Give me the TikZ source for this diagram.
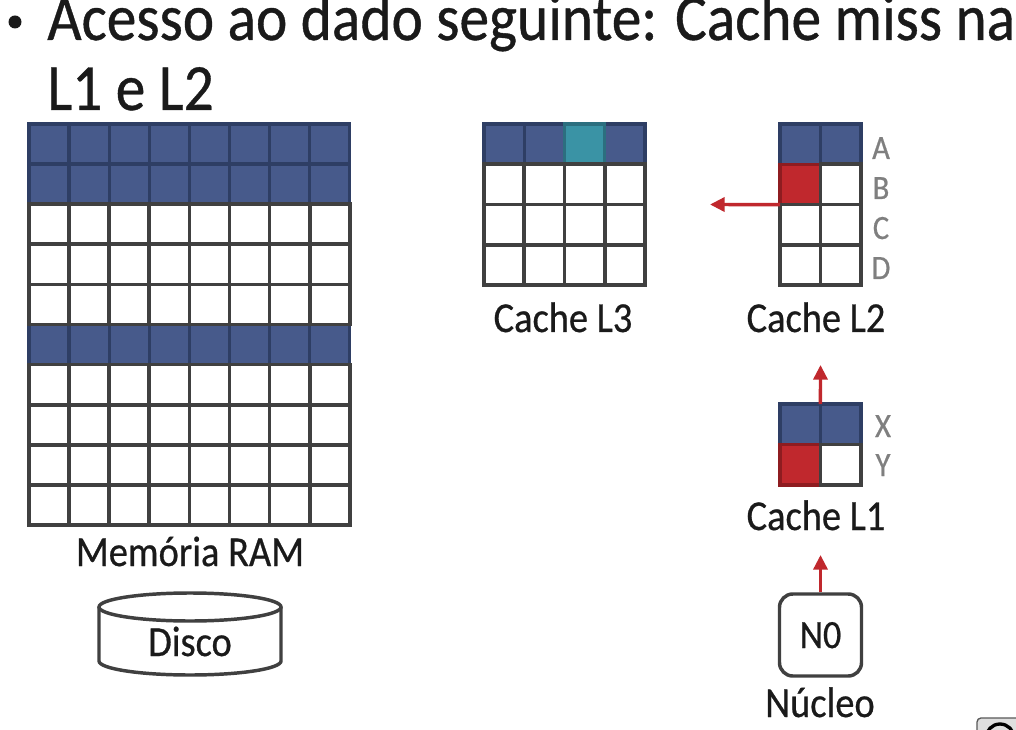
\documentclass[tikz,border=0pt]{standalone}
\usepackage{fontspec}
\setmainfont{Carlito}[FakeStretch=0.9,FakeBold=0.6]
\usetikzlibrary{arrows.meta}
\definecolor{gridc}{HTML}{404040}
\definecolor{cblue}{HTML}{475A8B}
\definecolor{cbluedk}{HTML}{2E3E64}
\definecolor{cteal}{HTML}{3A93A5}
\definecolor{ctealdk}{HTML}{2C6F7F}
\definecolor{cred}{HTML}{C0282D}
\definecolor{creddk}{HTML}{8E1C20}
\definecolor{cgrayt}{HTML}{7F7F7F}
\definecolor{ctext}{HTML}{1A1A1A}
\newcommand\fsTitle{\fontsize{49.5}{52}\selectfont}
\newcommand\fsLab{\fontsize{32}{36}\selectfont}
\newcommand\fsRow{\fontsize{25.5}{28}\selectfont}
\begin{document}
\begin{tikzpicture}[x=0.75pt,y=-0.75pt,
  cellw/.style={draw=gridc, line width=2.8pt, fill=white, minimum width=#1, minimum height=#1, inner sep=0, outer sep=0},
  cellb/.style={draw=cbluedk, line width=2.4pt, fill=cblue, minimum width=#1, minimum height=#1, inner sep=0, outer sep=0},
  cellt/.style={draw=ctealdk, line width=2.4pt, fill=cteal, minimum width=#1, minimum height=#1, inner sep=0, outer sep=0},
  cellr/.style={draw=creddk, line width=2.4pt, fill=cred, minimum width=#1, minimum height=#1, inner sep=0, outer sep=0},
  lab/.style={font=\fsLab, text=ctext, anchor=base, inner sep=0},
  rowlab/.style={font=\fsRow, text=cgrayt, anchor=base, inner sep=0},
  redarr/.style={draw=cred, line width=2.6pt, -{Triangle[length=11pt,width=10.5pt]}},
]
\clip (0,0) rectangle (1016,730);
\fill[white] (0,0) rectangle (1016,730);

% title
\fill[ctext] (15,22) circle[radius=6.5];
\node[font=\fsTitle, text=ctext, anchor=base west, inner sep=0] (t1) at (47,40) {Acesso ao dado seguinte: Cache miss na};
\node[font=\fsTitle, text=ctext, anchor=base west, inner sep=0] (t2) at (47,110) {L1 e L2};

% RAM grid 8x10
\foreach \r in {0,1,5}{\foreach \c in {0,...,7}{
  \node[cellb=30.1pt] (ram-\r-\c) at ({29+40.1*(\c+0.5)},{124+40.1*(\r+0.5)}) {};}}
\foreach \r in {2,3,4,6,7,8,9}{\foreach \c in {0,...,7}{
  \node[cellw=30.1pt] (ram-\r-\c) at ({29+40.1*(\c+0.5)},{124+40.1*(\r+0.5)}) {};}}
\node[lab] (ramlab) at (190,566) {Memória RAM};

% Disk
\draw[draw=gridc, line width=2.6pt, fill=white] (99,607) -- (99,661) arc[start angle=180, end angle=0, x radius=91, y radius=14] -- (281,607);
\draw[draw=gridc, line width=2.6pt, fill=white] (190,607) ellipse[x radius=91, y radius=14];
\node[lab] (disco) at (190,656) {Disco};

% L3 grid 4x4
\foreach \c in {0,1,3}{\node[cellb=30.2pt] (l3-0-\c) at ({484+40.25*(\c+0.5)},{124+40.25*0.5}) {};}
\node[cellt=30.2pt] (l3-0-2) at ({484+40.25*2.5},{124+40.25*0.5}) {};
\foreach \r in {1,2,3}{\foreach \c in {0,...,3}{
  \node[cellw=30.2pt] (l3-\r-\c) at ({484+40.25*(\c+0.5)},{124+40.25*(\r+0.5)}) {};}}
\node[lab] (l3lab) at (563,332) {Cache L3};

% L2 grid 2x4
\foreach \c in {0,1}{\node[cellb=30.3pt] (l2-0-\c) at ({780+40.5*(\c+0.5)},{124+40.25*0.5}) {};}
\node[cellr=30.3pt] (l2-1-0) at ({780+40.5*0.5},{124+40.25*1.5}) {};
\node[cellw=30.3pt] (l2-1-1) at ({780+40.5*1.5},{124+40.25*1.5}) {};
\foreach \r in {2,3}{\foreach \c in {0,1}{
  \node[cellw=30.3pt] (l2-\r-\c) at ({780+40.5*(\c+0.5)},{124+40.25*(\r+0.5)}) {};}}
\node[lab] (l2lab) at (816,332) {Cache L2};
\node[rowlab] (la) at (881,159) {A};
\node[rowlab] (lb) at (881,199) {B};
\node[rowlab] (lc) at (881,239) {C};
\node[rowlab] (ld) at (881,279) {D};

% L1 grid 2x2
\foreach \c in {0,1}{\node[cellb=30.3pt] (l1-0-\c) at ({780+40.5*(\c+0.5)},{404+40.5*0.5}) {};}
\node[cellr=30.3pt] (l1-1-0) at ({780+40.5*0.5},{404+40.5*1.5}) {};
\node[cellw=30.3pt] (l1-1-1) at ({780+40.5*1.5},{404+40.5*1.5}) {};
\node[lab] (l1lab) at (816,530) {Cache L1};
\node[rowlab] (lx) at (883,437) {X};
\node[rowlab] (ly) at (883,476) {Y};

% core
\node[draw=gridc, line width=2.6pt, rounded corners=10pt, fill=white, minimum width=61.5pt, minimum height=61.5pt, inner sep=0] (n0) at (820.5,635) {};
\node[lab, font=\fontsize{30}{34}\selectfont] (n0t) at (820.5,648) {N0};
\node[lab] (nucleo) at (820,717) {Núcleo};

% arrows
\coordinate (l2tip) at (710,204.5);
\coordinate (l1tip) at (820.5,365);
\coordinate (n0tip) at (820.5,555);
\draw[redarr] (l2-1-0.south west) -- (l2tip);
\draw[redarr] (l1-0-0.north east) -- (l1tip);
\draw[redarr] (n0.north) -- (n0tip);

% corner icon fragment
\draw[draw=gray!70!black, line width=1pt, fill=gray!25, rounded corners=3pt] (977,718) rectangle (1040,760);
\draw[black, line width=2.5pt] (1000,738) circle[radius=14];
\end{tikzpicture}
\end{document}
